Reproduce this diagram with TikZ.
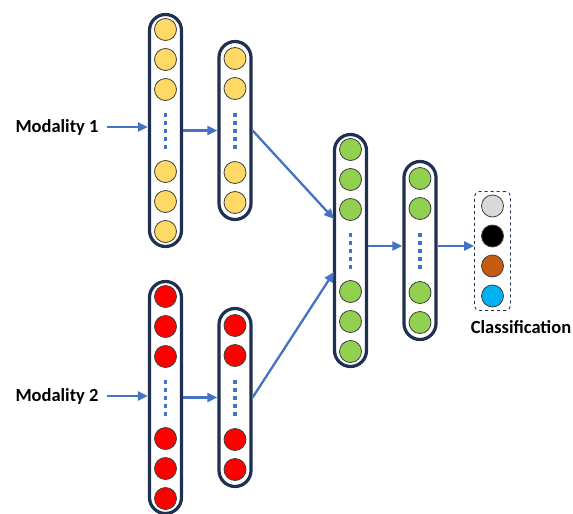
\documentclass[tikz,border=0pt]{standalone}
\usepackage{fontspec}
\setmainfont{Carlito}
\usetikzlibrary{arrows.meta}
\definecolor{navy}{HTML}{1F3050}
\definecolor{arrowblue}{HTML}{4472C4}
\definecolor{rimgray}{HTML}{404040}
\definecolor{gold}{HTML}{FFD966}
\definecolor{leaf}{HTML}{92D050}
\definecolor{pale}{HTML}{D9D9D9}
\definecolor{rust}{HTML}{C55A11}
\definecolor{sky}{HTML}{00B0F0}
\begin{document}
\begin{tikzpicture}[x=1pt,y=-1pt,>={Triangle[length=10pt,width=9pt]},
	layer/.style={draw=navy,line width=3.2pt,rounded corners=16pt,minimum width=32pt,inner sep=0pt},
	unit/.style={circle,draw=rimgray,line width=0.8pt,minimum size=22pt,inner sep=0pt},
	gap/.style={draw=arrowblue,line width=3.8pt,dash pattern=on 3.8pt off 4.2pt},
	link/.style={->,draw=arrowblue,line width=2.3pt},
	lbl/.style={font=\bfseries\fontsize{18.5}{22}\selectfont,inner sep=0pt}]
	
	\useasboundingbox (0,0) rectangle (573,514);
	
	% modality 1 branch
	\node[layer,minimum height=232pt] (inA) at (165.5,130.5) {};
	\foreach \dy [count=\i] in {-101,-71,-41,41,71,101}
		\node[unit,fill=gold] (inA\i) at (165.5,{130.5+\dy}) {};
	\draw[gap] (165.5,113) -- (165.5,150);
	
	\node[layer,minimum height=178pt] (hidA) at (235,130.5) {};
	\foreach \dy [count=\i] in {-72,-42,42,72}
		\node[unit,fill=gold] (hidA\i) at (235,{130.5+\dy}) {};
	\draw[gap] (235,113) -- (235,150);
	
	% modality 2 branch
	\node[layer,minimum height=232pt] (inB) at (165.5,397.5) {};
	\foreach \dy [count=\i] in {-101,-71,-41,41,71,101}
		\node[unit,fill=red] (inB\i) at (165.5,{397.5+\dy}) {};
	\draw[gap] (165.5,380) -- (165.5,417);
	
	\node[layer,minimum height=178pt] (hidB) at (235,397.5) {};
	\foreach \dy [count=\i] in {-72,-42,42,72}
		\node[unit,fill=red] (hidB\i) at (235,{397.5+\dy}) {};
	\draw[gap] (235,380) -- (235,417);
	
	% fusion
	\node[layer,minimum height=232pt] (fuse) at (350.5,250.5) {};
	\foreach \dy [count=\i] in {-101,-71,-41,41,71,101}
		\node[unit,fill=leaf] (fuse\i) at (350.5,{250.5+\dy}) {};
	\draw[gap] (350.5,233) -- (350.5,270);
	
	\node[layer,minimum height=178pt] (deep) at (420,250.5) {};
	\foreach \dy [count=\i] in {-72,-42,42,72}
		\node[unit,fill=leaf] (deep\i) at (420,{250.5+\dy}) {};
	\draw[gap] (420,233) -- (420,270);
	
	% output
	\node[draw=navy,line width=0.9pt,dashed,rounded corners=5pt,minimum width=36pt,minimum height=119pt] (out) at (492.5,251) {};
	\foreach \dy/\c [count=\i] in {-45/pale,-15/black,15/rust,45/sky}
		\node[unit,fill=\c] (out\i) at (492.5,{251+\dy}) {};
	
	\node[lbl] (m1) at (57,127) {Modality 1};
	\node[lbl] (m2) at (57,396) {Modality 2};
	\node[lbl] (cls) at (521,327) {Classification};
	
	\coordinate (fuseA) at (334,219);
	\coordinate (fuseB) at (334,272);
	
	\draw[link] (m1.east) ++(8,0) coordinate (m1s) -- (inA.west |- m1s);
	\draw[link] (m2.east) ++(8,0) coordinate (m2s) -- (inB.west |- m2s);
	\draw[link] (inA.east) -- (hidA.west);
	\draw[link] (inB.east) -- (hidB.west);
	\draw[link] (hidA.east) -- (fuseA);
	\draw[link] (hidB.east) -- (fuseB);
	\draw[link] (fuse.east |- 0,246) -- (deep.west |- 0,246);
	\draw[link] (deep.east |- 0,246) -- (out.west |- 0,246);
	
\end{tikzpicture}
\end{document}
